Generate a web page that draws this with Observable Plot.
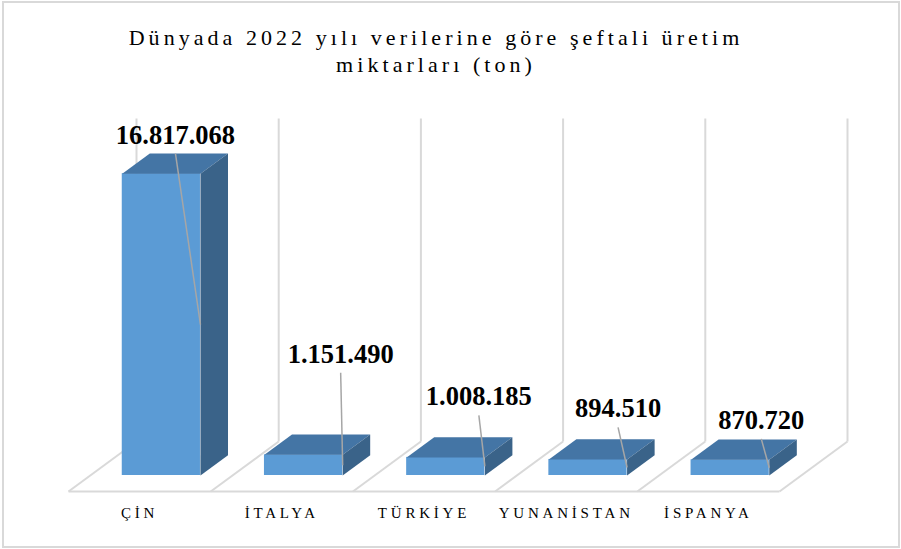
<!DOCTYPE html>
<html>
<head>
<meta charset="utf-8">
<script src="https://cdn.jsdelivr.net/npm/d3@7"></script>
<script src="https://cdn.jsdelivr.net/npm/@observablehq/plot@0.6"></script>
<style>
  body { margin: 0; background: #fff; }
  #wrap { position: relative; width: 901px; height: 549px; overflow: hidden; background: #fff; }
  #frame { position: absolute; left: 2px; top: 1px; width: 894px; height: 543px; border: 2px solid #d9d9d9; box-sizing: content-box; }
  #title { position: absolute; left: 0; top: 24px; width: 872px; text-align: center;
           font-family: "Liberation Serif", "Times New Roman", serif; font-size: 22px;
           letter-spacing: 4.05px; line-height: 27px; color: #000; }
  #chart { position: absolute; left: 0; top: 85px; }
</style>
</head>
<body>
<div id="wrap">
  <div id="frame"></div>
  <div id="title">Dünyada 2022 yılı verilerine göre şeftali üretim<br>miktarları (ton)</div>
  <div id="chart"></div>
</div>
<script>
// ---- data ----
const categories = ["ÇİN", "İTALYA", "TÜRKİYE", "YUNANİSTAN", "İSPANYA"];
const production = [16817068, 1151490, 1008185, 894510, 870720];
const wallTop = 18000000;   // value axis maximum (top of back wall)

// ---- layout (pixels / style) ----
const W = 901, H = 464;
const mL = 68, mR = 122, mT = 47, mB = 58;
const yMax = 20000000;
const pxX = (W - mL - mR) / categories.length;   // px per category
const pxY = (H - mT - mB) / yMax;                 // px per ton
const depthPx = [68, 50];                         // floor depth (dx right, dy up)
const KX = depthPx[0] / pxX, KY = depthPx[1] / pxY;
const zf = 0.32, zb = 0.725, hw = 0.275;          // bar front/back depth, half width
// leader start offset (px) from the bar's top-front-right corner
const leaderOffsets = [[-25, -20], [-2, -82], [-6, -42], [-9, -32], [-8, -21]];

const P = (i, v, z) => ({x: i + z * KX, y: v + z * KY});
const fmt = d3.formatLocale({decimal: ",", thousands: ".", grouping: [3], currency: ["", ""]}).format(",d");

// grid: back wall verticals + floor diagonals + floor front line
const grid = [];
for (let b = 0; b <= categories.length; b++) {
  const xb = b - 0.5;
  const a = P(xb, 0, 1), t = P(xb, wallTop, 1), f = P(xb, 0, 0);
  grid.push({x1: a.x, y1: a.y, x2: t.x, y2: t.y});
  grid.push({x1: f.x, y1: f.y, x2: a.x, y2: a.y});
}
{
  const l = P(-0.5, 0, 0), r = P(categories.length - 0.5, 0, 0);
  grid.push({x1: l.x, y1: l.y, x2: r.x, y2: r.y});
}

const fronts = production.map((v, i) => {
  const a = P(i - hw, 0, zf), b = P(i + hw, v, zf);
  return {x1: a.x, x2: b.x, y1: a.y, y2: b.y};
});
const tops = [], sides = [];
production.forEach((v, i) => {
  const L = i - hw, R = i + hw;
  [[L, v, zf], [R, v, zf], [R, v, zb], [L, v, zb]].forEach(([a, b, c]) => tops.push({...P(a, b, c), key: i}));
  [[R, 0, zf], [R, v, zf], [R, v, zb], [R, 0, zb]].forEach(([a, b, c]) => sides.push({...P(a, b, c), key: i}));
});
const leaders = production.map((v, i) => {
  const c = P(i + hw, v, zf), m = P(i + hw, v / 2, zf);
  const [ox, oy] = leaderOffsets[i];
  return {x1: c.x + ox / pxX, y1: c.y - oy / pxY, x2: m.x, y2: m.y, label: fmt(v)};
});
const catLabels = categories.map((c, i) => ({...P(i, 0, 0), label: c}));

const chart = Plot.plot({
  width: W, height: H,
  marginLeft: mL, marginRight: mR, marginTop: mT, marginBottom: mB,
  x: {domain: [-0.5, categories.length - 0.5], axis: null},
  y: {domain: [0, yMax], axis: null},
  style: {background: "transparent", overflow: "visible"},
  marks: [
    Plot.link(grid, {x1: "x1", y1: "y1", x2: "x2", y2: "y2", stroke: "#d9d9d9", strokeWidth: 2}),
    Plot.rect(fronts, {x1: "x1", x2: "x2", y1: "y1", y2: "y2", fill: "#5b9bd5"}),
    Plot.line(tops, {x: "x", y: "y", z: "key", fill: "#4475a5", stroke: "none"}),
    Plot.line(sides, {x: "x", y: "y", z: "key", fill: "#3a6389", stroke: "none"}),
    Plot.link(leaders, {x1: "x1", y1: "y1", x2: "x2", y2: "y2", stroke: "#a6a6a6", strokeWidth: 1.5}),
    Plot.text(leaders, {x: "x1", y: "y1", text: "label", dy: -10, lineAnchor: "bottom",
      fontFamily: "Liberation Serif", fontWeight: "bold", fontSize: 26.5, fill: "#000"}),
    Plot.text(catLabels, {x: "x", y: "y", text: "label", dy: 26, dx: 0, lineAnchor: "bottom",
      fontFamily: "Liberation Serif", fontSize: 15, fill: "#000"})
  ]
});
// spaced capitals for the category labels
d3.select(chart).selectAll("text")
  .filter(function() { return categories.includes(this.textContent); })
  .attr("letter-spacing", "3.8px").style("letter-spacing", "3.8px");
document.getElementById("chart").appendChild(chart);
</script>
</body>
</html>
